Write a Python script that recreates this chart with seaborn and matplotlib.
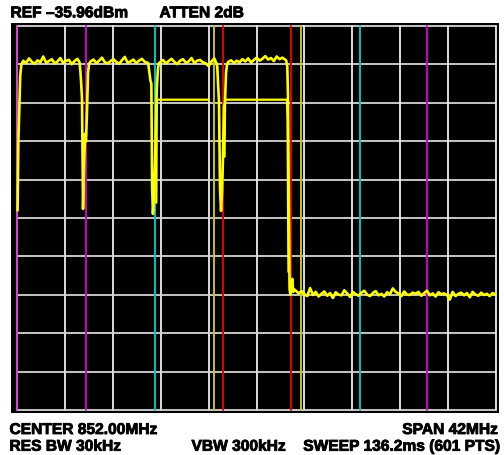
import numpy as np
import pandas as pd
import matplotlib
matplotlib.use("Agg")
import matplotlib.pyplot as plt
import matplotlib.patheffects as pe
import seaborn as sns

# Instrument settings (frequency in MHz, level in dBm)
ref_level = -35.96
db_per_div = 10
center_mhz = 852.0
span_mhz = 42.0

# Marker lines
marker_mhz = [831.0, 837.05, 843.07, 848.27, 849.09, 855.0, 855.92, 861.08, 866.98]
marker_color = ['#d040d0', '#cc00cc', '#00c4c4', '#c8c800', '#e00000',
                '#e00000', '#c8c800', '#00c4c4', '#cc00cc']

# Main trace
start_mhz = [831.05, 831.12, 831.20, 831.28, 831.38]
start_db = [-84.0, -66.0, -58.0, -49.0, -46.0]

plat1_mhz = [831.55, 831.80, 832.05, 832.30, 832.55, 832.80, 833.05, 833.30, 833.55, 833.80, 834.05,
             834.30, 834.55, 834.80, 835.05, 835.30, 835.55, 835.80, 836.05, 836.30, 836.48]
plat1_db = [-45.0, -45.6, -44.4, -45.3, -45.8, -44.9, -45.4, -43.9, -45.5, -45.1, -44.6,
            -45.7, -45.2, -44.3, -45.6, -45.0, -44.8, -45.9, -45.1, -44.5, -45.4]

dip1_mhz = [836.56, 836.63, 836.70, 836.79, 836.88, 836.97, 837.05, 837.14, 837.23, 837.32]
dip1_db = [-47.8, -51.0, -55.0, -83.6, -72.0, -64.0, -66.0, -58.0, -48.0, -45.8]

plat2_mhz = [837.45, 837.70, 837.95, 838.20, 838.45, 838.70, 838.95, 839.20, 839.45, 839.70, 839.95,
             840.20, 840.45, 840.70, 840.95, 841.20, 841.45, 841.70, 841.95, 842.20, 842.50]
plat2_db = [-45.2, -44.7, -45.6, -45.0, -44.2, -45.4, -45.7, -45.1, -44.6, -45.3, -45.8,
            -44.9, -44.0, -45.5, -45.2, -44.7, -45.6, -45.0, -44.5, -45.3, -45.6]

dip2_mhz = [842.62, 842.70, 842.78, 842.85, 842.92, 843.01, 843.10, 843.18, 843.26, 843.36, 843.45]
dip2_db = [-48.5, -50.2, -51.0, -78.0, -84.9, -80.0, -72.0, -61.0, -52.0, -47.0, -45.6]

plat3_mhz = [843.55, 843.80, 844.05, 844.30, 844.55, 844.80, 845.05, 845.30, 845.55, 845.80, 846.05,
             846.30, 846.55, 846.80, 847.05, 847.30, 847.55, 847.80, 848.05, 848.30, 848.48]
plat3_db = [-45.4, -44.8, -45.7, -45.1, -44.5, -45.3, -45.9, -45.0, -44.6, -45.5, -45.2,
            -44.3, -45.6, -45.0, -44.8, -45.4, -45.7, -46.4, -45.2, -44.4, -45.6]

dip3_mhz = [848.56, 848.63, 848.71, 848.80, 848.89, 848.98, 849.06, 849.15, 849.24, 849.33, 849.42]
dip3_db = [-46.5, -51.0, -55.5, -78.0, -84.1, -79.0, -70.0, -57.0, -55.5, -48.0, -46.0]

plat4_mhz = [849.52, 849.77, 850.02, 850.27, 850.52, 850.77, 851.02, 851.27, 851.52, 851.77, 852.02,
             852.27, 852.52, 852.77, 853.02, 853.27, 853.52, 853.77, 854.02, 854.27, 854.60]
plat4_db = [-45.3, -44.9, -45.6, -45.0, -45.4, -44.6, -45.2, -44.4, -45.5, -44.8, -44.2,
            -45.0, -44.5, -43.8, -44.7, -44.3, -45.1, -43.9, -44.6, -44.2, -44.9]

drop_mhz = [854.70, 854.76, 854.83, 854.90, 854.98, 855.06, 855.14, 855.22, 855.32]
drop_db = [-46.5, -54.0, -80.0, -104.5, -106.0, -103.0, -101.8, -105.2, -104.6]

floor_mhz = [855.45, 855.70, 855.95, 856.20, 856.45, 856.70, 856.95, 857.20, 857.45, 857.70,
             857.95, 858.20, 858.45, 858.70, 858.95, 859.20, 859.45, 859.70, 859.95, 860.20,
             860.45, 860.70, 860.95, 861.20, 861.45, 861.70, 861.95, 862.20, 862.45, 862.70,
             862.95, 863.20, 863.45, 863.70, 863.95, 864.20, 864.45, 864.70, 864.95, 865.20,
             865.45, 865.70, 865.95, 866.20, 866.45, 866.70, 866.95, 867.20, 867.45, 867.70,
             867.95, 868.20, 868.45, 868.70, 868.95, 869.20, 869.45, 869.70, 869.95, 870.20,
             870.45, 870.70, 870.95, 871.20, 871.45, 871.70, 871.95, 872.20, 872.45, 872.70,
             872.95]
floor_db = [-104.9, -105.6, -105.0, -105.8, -106.3, -104.2, -106.0, -105.2, -106.4, -105.7,
            -105.1, -106.2, -105.5, -106.8, -105.3, -105.9, -106.1, -104.8, -105.6, -106.5,
            -105.2, -105.8, -106.2, -105.4, -104.9, -105.9, -106.3, -105.5, -105.0, -106.1,
            -105.7, -106.4, -105.3, -105.8, -104.3, -105.2, -105.6, -106.3, -105.1, -105.9,
            -106.0, -105.4, -105.7, -105.2, -106.2, -105.5, -104.9, -106.1, -105.6, -106.4,
            -105.3, -105.8, -105.6, -106.0, -107.2, -105.2, -106.3, -105.7, -105.4, -106.1,
            -105.5, -106.6, -105.2, -105.9, -106.2, -105.4, -106.0, -105.7, -106.3, -105.5,
            -105.9]

# Second (lower) trace, visible only where it splits from the main one
low_a_mhz = [843.22, 843.26, 847.83]
low_a_db = [-82.0, -55.15, -55.15]
low_b_mhz = [849.20, 849.25, 854.67, 854.72, 854.80]
low_b_db = [-70.0, -55.15, -55.15, -60.0, -100.0]

main = pd.DataFrame({
    'mhz': start_mhz + plat1_mhz + dip1_mhz + plat2_mhz + dip2_mhz + plat3_mhz
           + dip3_mhz + plat4_mhz + drop_mhz + floor_mhz,
    'dbm': start_db + plat1_db + dip1_db + plat2_db + dip2_db + plat3_db
           + dip3_db + plat4_db + drop_db + floor_db,
})

sns.set_theme(style="dark")
plt.rcParams['font.family'] = ['Liberation Sans', 'DejaVu Sans']

fig = plt.figure(figsize=(5.04, 4.56), dpi=100)
fig.patch.set_facecolor('white')

f_lo = center_mhz - span_mhz / 2
f_hi = center_mhz + span_mhz / 2
bottom_db = ref_level - 10 * db_per_div
mhz_px = span_mhz / 479
db_px = 10 * db_per_div / 384

ax = fig.add_axes([11 / 504, 1 - 414 / 456, 487.7 / 504, 390.3 / 456])
ax.set_facecolor('black')
ax.set_xlim(f_lo - 6 * mhz_px, f_hi + 2.7 * mhz_px)
ax.set_ylim(bottom_db - 3 * db_px, ref_level + 3.3 * db_px)
for s in ax.spines.values():
    s.set_visible(False)
ax.set_xticks([])
ax.set_yticks([])

# graticule
for k in range(11):
    x = f_lo + k * span_mhz / 10
    ax.plot([x, x], [bottom_db, ref_level], color='#ececec', lw=1.3, zorder=1)
    y = ref_level - k * db_per_div
    ax.plot([f_lo, f_hi], [y, y], color='#d4d4d4', lw=1.3, zorder=1)

# markers
for m, c in zip(marker_mhz, marker_color):
    ax.plot([m, m], [bottom_db, ref_level], color=c, lw=1.4, zorder=2)

sns.lineplot(data=main, x='mhz', y='dbm', sort=False, estimator=None,
             color='#ffff00', lw=1.9, ax=ax, zorder=3)
sns.lineplot(x=low_a_mhz, y=low_a_db, sort=False, estimator=None,
             color='#ffff00', lw=1.6, ax=ax, zorder=3)
sns.lineplot(x=low_b_mhz, y=low_b_db, sort=False, estimator=None,
             color='#ffff00', lw=1.6, ax=ax, zorder=3)
ax.set_xlabel('')
ax.set_ylabel('')

fs = 11.2
stroke = [pe.withStroke(linewidth=0.6, foreground='black')]
kw = dict(fontsize=fs, fontweight='bold', color='black', va='baseline', path_effects=stroke)
fig.text(10.5 / 504, 1 - 18.3 / 456, 'REF \u201335.96dBm', **kw)
fig.text(159.5 / 504, 1 - 18.3 / 456, 'ATTEN 2dB', **kw)
fig.text(9.5 / 504, 1 - 435 / 456, 'CENTER 852.00MHz', **kw)
fig.text(497.5 / 504, 1 - 435 / 456, 'SPAN 42MHz', ha='right', **kw)
fig.text(9.5 / 504, 1 - 451.7 / 456, 'RES BW 30kHz', **kw)
fig.text(191.5 / 504, 1 - 451.7 / 456, 'VBW 300kHz', **kw)
fig.text(499 / 504, 1 - 451.7 / 456, 'SWEEP 136.2ms (601 PTS)', ha='right', **kw)

fig.savefig('out.png', dpi=100)
